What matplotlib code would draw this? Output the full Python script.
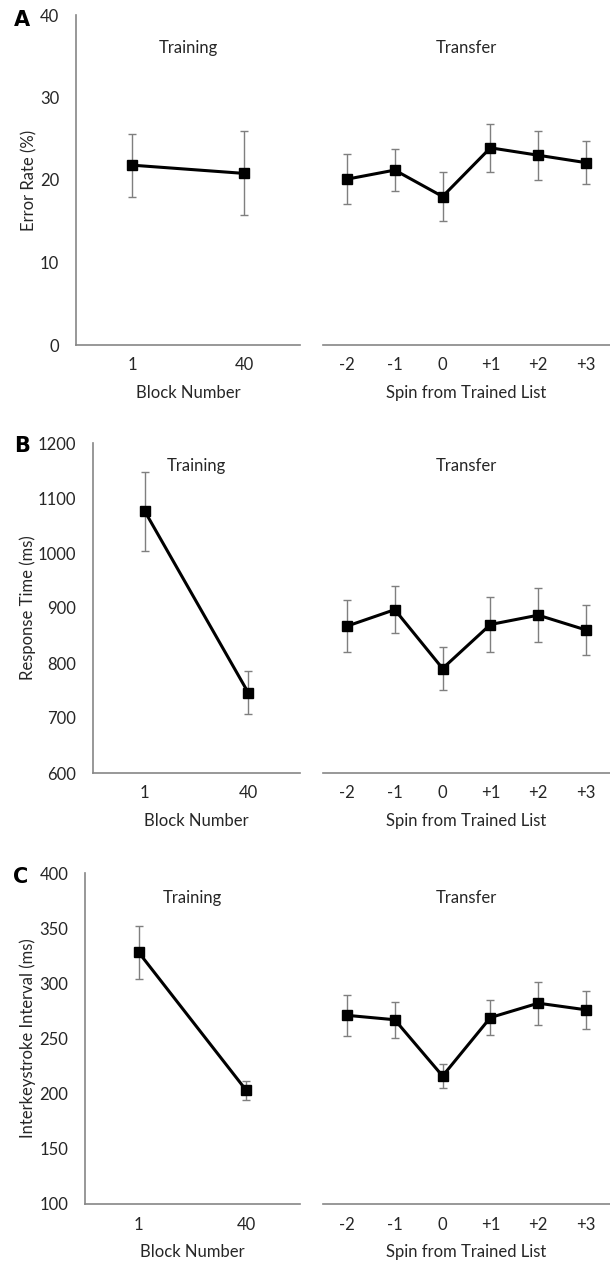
import matplotlib
matplotlib.use("Agg")
from matplotlib import pyplot as plt

plt.rcParams['font.family'] = ['Lato', 'DejaVu Sans']

training_labels = ['1', '40']
transfer_labels = ['-2', '-1', '0', '+1', '+2', '+3']

# Panel A: error rate (%)
error_train = [21.8, 20.8]
error_train_err = [3.8, 5.1]
error_transfer = [20.1, 21.2, 18.0, 23.9, 23.0, 22.1]
error_transfer_err = [3.0, 2.5, 3.0, 2.9, 3.0, 2.6]

# Panel B: response time (ms)
rt_train = [1076, 746]
rt_train_err = [72, 39]
rt_transfer = [867, 897, 790, 870, 887, 860]
rt_transfer_err = [47, 43, 39, 50, 49, 46]

# Panel C: interkeystroke interval (ms)
iki_train = [328, 203]
iki_train_err = [24, 8.5]
iki_transfer = [271, 267, 216, 269, 282, 276]
iki_transfer_err = [18.5, 16.5, 11, 15.5, 19.5, 17]

W, H = 610, 1261
fig = plt.figure(figsize=(W / 100, H / 100), dpi=100)

TEXT = '#262626'
SPINE = '#868686'
FS = 12


def px_rect(x0, x1, y_top, y_bottom):
    return [x0 / W, 1 - y_bottom / H, (x1 - x0) / W, (y_bottom - y_top) / H]


def draw(ax, labels, values, errs, ylim, yticks, title, title_y, xlabel, show_y):
    x = list(range(len(labels)))
    ax.errorbar(x, values, yerr=errs, fmt='none', ecolor='#7f7f7f',
                elinewidth=1.0, capsize=3, capthick=1.0, zorder=2)
    ax.plot(x, values, color='black', linewidth=2.2, marker='s',
            markersize=7, zorder=3)
    ax.set_xlim(-0.5, len(labels) - 0.5)
    ax.set_ylim(*ylim)
    ax.set_xticks(x)
    ax.set_xticklabels(labels, fontsize=FS, color=TEXT)
    ax.tick_params(axis='x', length=0, pad=9)
    for side in ['top', 'right']:
        ax.spines[side].set_visible(False)
    ax.spines['bottom'].set_color(SPINE)
    ax.spines['bottom'].set_linewidth(1.2)
    if show_y:
        ax.spines['left'].set_color(SPINE)
        ax.spines['left'].set_linewidth(1.2)
        ax.set_yticks(yticks)
        ax.set_yticklabels([str(t) for t in yticks], fontsize=FS, color=TEXT)
        ax.tick_params(axis='y', length=0, pad=12)
    else:
        ax.spines['left'].set_visible(False)
        ax.set_yticks([])
    ax.text(0.5, title_y, title, transform=ax.transAxes, ha='center',
            va='center', fontsize=FS, color=TEXT)
    ax.set_xlabel(xlabel, fontsize=FS, color=TEXT)
    ax.xaxis.set_label_coords(0.5, -0.12)


rows = [
    dict(letter='A', letter_xy=(22, 20), left_x=76, y_top=15, y_bottom=345,
         ylim=(0, 40), yticks=[0, 10, 20, 30, 40], ylabel='Error Rate (%)',
         ylabel_x=37, title_y=0.90,
         train=(error_train, error_train_err),
         transfer=(error_transfer, error_transfer_err)),
    dict(letter='B', letter_xy=(22, 446), left_x=93, y_top=443, y_bottom=773,
         ylim=(600, 1200), yticks=[600, 700, 800, 900, 1000, 1100, 1200],
         ylabel='Response Time (ms)', ylabel_x=36, title_y=0.93,
         train=(rt_train, rt_train_err),
         transfer=(rt_transfer, rt_transfer_err)),
    dict(letter='C', letter_xy=(21, 877), left_x=85, y_top=873, y_bottom=1204,
         ylim=(100, 400), yticks=[100, 150, 200, 250, 300, 350, 400],
         ylabel='Interkeystroke Interval (ms)', ylabel_x=36, title_y=0.925,
         train=(iki_train, iki_train_err),
         transfer=(iki_transfer, iki_transfer_err)),
]

for row in rows:
    ax_train = fig.add_axes(px_rect(row['left_x'], 300, row['y_top'], row['y_bottom']))
    ax_transfer = fig.add_axes(px_rect(323, 610, row['y_top'], row['y_bottom']))

    draw(ax_train, training_labels, row['train'][0], row['train'][1],
         row['ylim'], row['yticks'], 'Training', row['title_y'], 'Block Number', True)
    draw(ax_transfer, transfer_labels, row['transfer'][0], row['transfer'][1],
         row['ylim'], row['yticks'], 'Transfer', row['title_y'],
         'Spin from Trained List', False)

    ax_train.set_ylabel(row['ylabel'], fontsize=FS, color=TEXT)
    ax_train.yaxis.set_label_coords((row['ylabel_x'] - row['left_x']) / (300 - row['left_x']), 0.5)

    lx, ly = row['letter_xy']
    fig.text(lx / W, 1 - ly / H, row['letter'], fontsize=15, fontweight='bold',
             ha='center', va='center', color='black', family=['DejaVu Sans'])

fig.savefig('out.png', dpi=100)
